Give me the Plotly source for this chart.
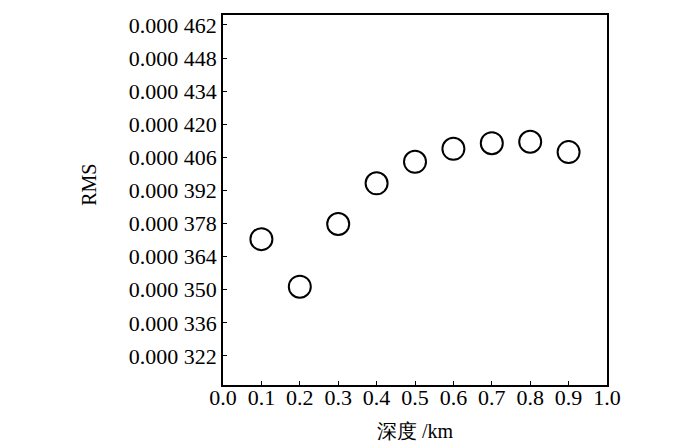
import plotly.graph_objects as go

# depth [km] and RMS values
depth = [0.1, 0.2, 0.3, 0.4, 0.5, 0.6, 0.7, 0.8, 0.9]
rms = [0.0003714, 0.0003513, 0.0003778, 0.0003950, 0.0004041,
       0.0004096, 0.0004120, 0.0004126, 0.0004082]

ytickVals = [0.000322, 0.000336, 0.000350, 0.000364, 0.000378, 0.000392,
             0.000406, 0.000420, 0.000434, 0.000448, 0.000462]
ytickText = ['0.000 322', '0.000 336', '0.000 350', '0.000 364', '0.000 378',
             '0.000 392', '0.000 406', '0.000 420', '0.000 434', '0.000 448',
             '0.000 462']
xtickVals = [0.0, 0.1, 0.2, 0.3, 0.4, 0.5, 0.6, 0.7, 0.8, 0.9, 1.0]
xtickText = ['0.0', '0.1', '0.2', '0.3', '0.4', '0.5', '0.6', '0.7', '0.8', '0.9', '1.0']

FONT = 'Liberation Serif'

fig = go.Figure()
fig.add_trace(go.Scatter(x=depth, y=rms, mode='markers',
                         marker=dict(size=22, color='white', symbol='circle',
                                     line=dict(color='black', width=2))))

# page body has an 8px margin, so the figure is a bit smaller than the window
fig.update_layout(
    width=692, height=440,
    margin=dict(l=215, r=93, t=7, b=63),
    plot_bgcolor='white', paper_bgcolor='white',
    showlegend=False,
    font=dict(family=FONT, size=22, color='black'),
    xaxis=dict(
        range=[0, 1.0], tickvals=xtickVals, ticktext=xtickText,
        showline=True, mirror=True, linecolor='black', linewidth=1.5,
        ticks='inside', ticklen=4, tickcolor='black',
        showgrid=False, zeroline=False, automargin=False,
        ticklabelstandoff=-8,
        tickfont=dict(family=FONT, size=22),
        title=dict(text='深度 /km', standoff=15,
                   font=dict(family=FONT, size=20)),
    ),
    yaxis=dict(
        range=[0.0003097, 0.0004662], tickvals=ytickVals, ticktext=ytickText,
        showline=True, mirror=True, linecolor='black', linewidth=1.5,
        ticks='inside', ticklen=4, tickcolor='black',
        showgrid=False, zeroline=False, automargin=False,
        tickfont=dict(family=FONT, size=22),
    ),
    annotations=[dict(text='RMS', textangle=-90, showarrow=False,
                      xref='paper', yref='paper', x=-0.348, y=0.542,
                      xanchor='center', yanchor='middle',
                      font=dict(family=FONT, size=20))],
)

fig.write_html("out.html")
